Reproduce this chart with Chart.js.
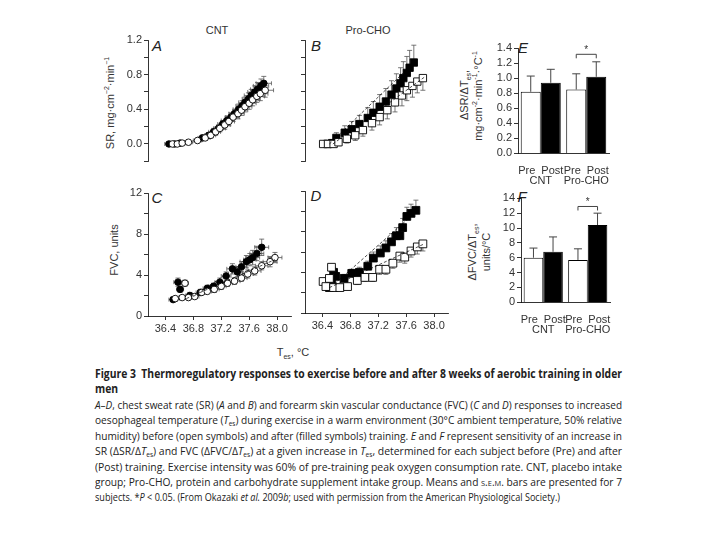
<!DOCTYPE html>
<html>
<head>
<meta charset="utf-8">
<script src="https://cdn.jsdelivr.net/npm/chart.js@4.4.0/dist/chart.umd.min.js"></script>
<style>
    body { margin: 0; width: 720px; height: 540px; background: #fff; position: relative; overflow: hidden;
        font-family: 'Liberation Sans', Arial, sans-serif; color: #333; }
    canvas.layer { position: absolute; left: 0; top: 0; }
    .c { position: absolute; transform: translate(-50%, -50%); white-space: nowrap; font-size: 11px; line-height: 1; }
    .r { transform: translate(-50%, -50%) rotate(-90deg); }
    .let { font-style: italic; font-size: 15px; color: #222; }
    sup, sub { font-size: 7px; line-height: 0; }
    .ln { position: absolute; left: 95px; white-space: nowrap; line-height: 14px; color: #222;
        font-family: 'Liberation Sans Narrow', 'Open Sans', sans-serif; font-size: 11px; }
    .ln span { display: inline-block; transform-origin: left center; }
    .ln.t { font-weight: bold; font-size: 11.5px; }
    .ln sub { font-size: 7px; vertical-align: -2px; }
</style>
</head>
<body>
<div class="c" style="left:217px;top:30px">CNT</div>
<div class="c" style="left:368px;top:30px">Pro-CHO</div>
<div class="c let" style="left:157px;top:45px">A</div>
<div class="c let" style="left:316px;top:45px">B</div>
<div class="c let" style="left:157px;top:197px">C</div>
<div class="c let" style="left:316px;top:195px">D</div>
<div class="c let" style="left:523px;top:47px">E</div>
<div class="c let" style="left:522px;top:196px">F</div>
<div class="c r" style="left:110px;top:103px">SR, mg·cm<sup>−2</sup>·min<sup>−1</sup></div>
<div class="c r" style="left:114px;top:250px">FVC, units</div>
<div class="c r" style="left:464px;top:95px">ΔSR/ΔT<sub>es</sub>,</div>
<div class="c r" style="left:478px;top:96px">mg·cm<sup>-2</sup>·min<sup>-1</sup>·°C<sup>-1</sup></div>
<div class="c r" style="left:472px;top:252px">ΔFVC/ΔT<sub>es</sub>,</div>
<div class="c r" style="left:486px;top:252px">units/°C</div>
<div class="c" style="left:293px;top:352px">T<sub>es</sub>, °C</div>

<div class="ln t" data-w="527" style="top:367px"><span>Figure 3&nbsp; Thermoregulatory responses to exercise before and after 8 weeks of aerobic training in older</span></div>
<div class="ln t" style="top:382px"><span>men</span></div>
<div class="ln" data-w="527" style="top:398px"><span><i>A</i>–<i>D</i>, chest sweat rate (SR) (<i>A</i> and <i>B</i>) and forearm skin vascular conductance (FVC) (<i>C</i> and <i>D</i>) responses to increased</span></div>
<div class="ln" data-w="527" style="top:413px"><span>oesophageal temperature (<i>T</i><sub>es</sub>) during exercise in a warm environment (30°C ambient temperature, 50% relative</span></div>
<div class="ln" data-w="527" style="top:429px"><span>humidity) before (open symbols) and after (filled symbols) training. <i>E</i> and <i>F</i> represent sensitivity of an increase in</span></div>
<div class="ln" data-w="527" style="top:444px"><span>SR (ΔSR/Δ<i>T</i><sub>es</sub>) and FVC (ΔFVC/Δ<i>T</i><sub>es</sub>) at a given increase in <i>T</i><sub>es</sub>, determined for each subject before (Pre) and after</span></div>
<div class="ln" data-w="527" style="top:460px"><span>(Post) training. Exercise intensity was 60% of pre-training peak oxygen consumption rate. CNT, placebo intake</span></div>
<div class="ln" data-w="527" style="top:475px"><span>group; Pro-CHO, protein and carbohydrate supplement intake group. Means and <span style="font-variant:small-caps">s.e.m.</span> bars are presented for 7</span></div>
<div class="ln" data-w="465" data-fit="scale" style="top:490px"><span>subjects. *<i>P</i> &lt; 0.05. (From Okazaki <i>et al.</i> 2009<i>b</i>; used with permission from the American Physiological Society.)</span></div>

<script>
// ---- data ----
// x axis (oesophageal temperature)
const tesTicks = [36.4, 36.8, 37.2, 37.6, 38.0];
const tesMin = 36.15, tesMax = 38.2;

// SR axis
const srTicks = [-0.2, 0.0, 0.2, 0.4, 0.6, 0.8, 1.0, 1.2];
const srLabels = [0.0, 0.4, 0.8, 1.2];
// FVC axis
const fvcTicks = [0, 2, 4, 6, 8, 10, 12];
const fvcLabels = [0, 4, 8, 12];

// Panel A - CNT, sweat rate (open = Pre, filled = Post)
const aPreT = [36.50, 36.57, 36.64, 36.73, 36.86, 36.97, 37.05, 37.12, 37.18, 37.25, 37.31, 37.37, 37.44, 37.49, 37.54, 37.60, 37.65, 37.71, 37.76, 37.83];
const aPreSR = [0.00, 0.00, 0.01, 0.02, 0.04, 0.07, 0.10, 0.14, 0.18, 0.22, 0.26, 0.31, 0.35, 0.39, 0.43, 0.47, 0.51, 0.55, 0.58, 0.62];
const aPreSRErr = [0.01, 0.01, 0.01, 0.02, 0.02, 0.03, 0.03, 0.04, 0.04, 0.05, 0.05, 0.05, 0.06, 0.06, 0.06, 0.07, 0.07, 0.07, 0.08, 0.08];
const aPreTErr = [0.06, 0.05, 0.05, 0.06, 0.06, 0.07, 0.07, 0.07, 0.08, 0.08, 0.08, 0.09, 0.09, 0.09, 0.10, 0.10, 0.10, 0.11, 0.11, 0.12];
const aPostT = [36.45, 36.53, 36.61, 36.93, 37.02, 37.09, 37.16, 37.22, 37.28, 37.34, 37.39, 37.45, 37.50, 37.54, 37.59, 37.63, 37.68, 37.72, 37.77, 37.81];
const aPostSR = [0.00, 0.00, 0.01, 0.07, 0.10, 0.14, 0.18, 0.23, 0.27, 0.31, 0.35, 0.40, 0.44, 0.48, 0.52, 0.56, 0.60, 0.63, 0.67, 0.70];
const aPostSRErr = [0.01, 0.01, 0.01, 0.03, 0.03, 0.04, 0.04, 0.04, 0.05, 0.05, 0.05, 0.06, 0.06, 0.06, 0.07, 0.07, 0.07, 0.08, 0.08, 0.08];
const aPostTErr = [0.06, 0.06, 0.05, 0.06, 0.06, 0.07, 0.07, 0.07, 0.08, 0.08, 0.08, 0.08, 0.09, 0.09, 0.09, 0.10, 0.10, 0.10, 0.11, 0.11];

// Panel B - Pro-CHO, sweat rate
const bPreT = [36.41, 36.48, 36.56, 36.63, 36.75, 36.87, 36.98, 37.11, 37.22, 37.33, 37.44, 37.54, 37.61, 37.69, 37.76, 37.84];
const bPreSR = [0.00, 0.00, 0.00, 0.02, 0.06, 0.10, 0.16, 0.24, 0.31, 0.39, 0.48, 0.56, 0.62, 0.67, 0.72, 0.76];
const bPreErr = [0.02, 0.02, 0.03, 0.04, 0.05, 0.06, 0.07, 0.08, 0.09, 0.10, 0.11, 0.12, 0.12, 0.13, 0.13, 0.14];
const bPostT = [36.47, 36.54, 36.60, 36.72, 36.82, 36.93, 37.05, 37.13, 37.22, 37.31, 37.39, 37.46, 37.52, 37.56, 37.61, 37.65, 37.71];
const bPostSR = [0.00, 0.01, 0.07, 0.13, 0.17, 0.23, 0.30, 0.36, 0.43, 0.49, 0.57, 0.64, 0.70, 0.76, 0.82, 0.88, 0.94];
const bPostErr = [0.03, 0.04, 0.06, 0.08, 0.09, 0.10, 0.12, 0.13, 0.14, 0.15, 0.16, 0.17, 0.18, 0.19, 0.19, 0.20, 0.20];
const bPreFitT = [36.55, 37.86], bPreFitSR = [0.00, 0.77];
const bPostFitT = [36.50, 37.74], bPostFitSR = [0.00, 0.96];

// Panel C - CNT, forearm vascular conductance
const cPreT = [36.54, 36.64, 36.68, 36.73, 36.82, 36.92, 37.00, 37.10, 37.20, 37.29, 37.39, 37.49, 37.58, 37.68, 37.78, 37.90, 37.97];
const cPreF = [1.7, 1.8, 3.2, 1.8, 1.9, 2.3, 2.4, 2.6, 2.9, 3.2, 3.4, 3.7, 4.1, 4.4, 4.9, 5.3, 5.7];
const cPreFErr = [0.2, 0.2, 0.3, 0.2, 0.2, 0.2, 0.2, 0.3, 0.3, 0.3, 0.3, 0.3, 0.4, 0.4, 0.4, 0.5, 0.5];
const cPreTErr = [0.06, 0.05, 0.05, 0.05, 0.06, 0.06, 0.06, 0.07, 0.07, 0.07, 0.08, 0.08, 0.08, 0.09, 0.09, 0.10, 0.10];
const cPostT = [36.51, 36.58, 36.61, 36.75, 36.90, 37.00, 37.09, 37.18, 37.27, 37.36, 37.43, 37.49, 37.56, 37.61, 37.65, 37.71, 37.78];
const cPostF = [1.6, 3.3, 2.6, 2.0, 2.3, 2.7, 2.9, 3.3, 3.9, 4.6, 4.3, 4.8, 5.3, 5.5, 5.7, 6.1, 6.7];
const cPostFErr = [0.2, 0.4, 0.3, 0.3, 0.3, 0.3, 0.3, 0.4, 0.4, 0.5, 0.5, 0.5, 0.6, 0.6, 0.7, 0.7, 0.8];
const cPostTErr = [0.06, 0.06, 0.05, 0.06, 0.06, 0.06, 0.07, 0.07, 0.07, 0.08, 0.08, 0.08, 0.09, 0.09, 0.10, 0.10, 0.10];
const cPreFitT = [36.70, 37.97], cPreFitF = [1.7, 5.5];
const cPostFitT = [36.80, 37.80], cPostFitF = [1.9, 6.5];

// Panel D - Pro-CHO, forearm vascular conductance
const dPreT = [36.41, 36.45, 36.50, 36.53, 36.56, 36.65, 36.76, 36.90, 37.01, 37.12, 37.22, 37.31, 37.41, 37.51, 37.58, 37.67, 37.76, 37.84];
const dPreF = [3.1, 2.6, 3.4, 4.5, 2.5, 2.5, 2.6, 3.2, 3.5, 3.5, 4.3, 4.3, 4.9, 5.6, 5.5, 6.1, 6.5, 6.8];
const dPreErr = [0.3, 0.3, 0.3, 0.4, 0.3, 0.3, 0.3, 0.4, 0.4, 0.4, 0.5, 0.5, 0.5, 0.6, 0.6, 0.6, 0.7, 0.7];
const dPostT = [36.50, 36.53, 36.56, 36.59, 36.71, 36.82, 36.93, 37.05, 37.13, 37.23, 37.31, 37.39, 37.46, 37.51, 37.55, 37.61, 37.67, 37.74];
const dPostF = [2.5, 2.9, 4.0, 3.6, 3.4, 3.9, 4.0, 4.6, 5.4, 5.9, 6.4, 7.0, 7.6, 7.6, 8.4, 9.5, 9.8, 10.1];
const dPostErr = [0.3, 0.4, 0.5, 0.4, 0.4, 0.4, 0.5, 0.5, 0.6, 0.7, 0.7, 0.8, 0.8, 0.8, 0.9, 0.9, 0.9, 1.0];
const dPreFitT = [36.50, 37.86], dPreFitF = [2.5, 6.8];
const dPostFitT = [36.58, 37.75], dPostFitF = [2.9, 10.0];

// Panels E and F - bars
const groups = ['CNT', 'Pro-CHO'];
const phases = ['Pre', 'Post'];
const eTicks = [0.0, 0.2, 0.4, 0.6, 0.8, 1.0, 1.2, 1.4];
const ePre = [0.82, 0.85], ePreErr = [0.21, 0.21];
const ePost = [0.94, 1.02], ePostErr = [0.18, 0.20];
const eSig = 1.32;
const fTicks = [0, 2, 4, 6, 8, 10, 12, 14];
const fPre = [6.0, 5.7], fPreErr = [1.3, 1.5];
const fPost = [6.8, 10.4], fPostErr = [2.0, 1.6];
const fSig = 12.9;

// ---- drawing ----
const FONT = "'Liberation Sans', Arial, sans-serif";
const TICK = '#333';
const YW = 40, XH = 22;

function layer() {
    var c = document.createElement('canvas');
    c.width = 720;
    c.height = 540;
    c.className = 'layer';
    document.body.appendChild(c);
    return c;
}

// chart area [left, top, right, bottom] in page pixels -> layout padding
function pad(area, yw, xh) {
    return { left: area[0] - yw, top: area[1], right: 720 - area[2], bottom: 540 - area[3] - xh };
}

function pts(xs, ys) {
    return xs.map((x, i) => ({ x: x, y: ys[i] }));
}

var errorBars = {
    id: 'errorBars',
    beforeDatasetsDraw(chart) {
        var ctx = chart.ctx, xs = chart.scales.x, ys = chart.scales.y;
        chart.data.datasets.forEach(function (ds, i) {
            if (!ds.errY) return;
            var meta = chart.getDatasetMeta(i);
            ctx.save();
            ctx.strokeStyle = '#555';
            ctx.lineWidth = 0.8;
            meta.data.forEach(function (pt, j) {
                var v = ds.data[j];
                ctx.beginPath();
                if (ds.errDir !== 'down') {
                    var yu = ys.getPixelForValue(v.y + ds.errY[j]);
                    ctx.moveTo(pt.x, pt.y); ctx.lineTo(pt.x, yu);
                    ctx.moveTo(pt.x - 2.5, yu); ctx.lineTo(pt.x + 2.5, yu);
                }
                if (ds.errDir !== 'up') {
                    var yd = ys.getPixelForValue(v.y - ds.errY[j]);
                    ctx.moveTo(pt.x, pt.y); ctx.lineTo(pt.x, yd);
                    ctx.moveTo(pt.x - 2.5, yd); ctx.lineTo(pt.x + 2.5, yd);
                }
                if (ds.errX) {
                    var xl = xs.getPixelForValue(v.x - ds.errX[j]);
                    var xr = xs.getPixelForValue(v.x + ds.errX[j]);
                    ctx.moveTo(xl, pt.y); ctx.lineTo(xr, pt.y);
                    ctx.moveTo(xl, pt.y - 2); ctx.lineTo(xl, pt.y + 2);
                    ctx.moveTo(xr, pt.y - 2); ctx.lineTo(xr, pt.y + 2);
                }
                ctx.stroke();
            });
            ctx.restore();
        });
    }
};

var barExtras = {
    id: 'barExtras',
    afterDatasetsDraw(chart, args, opts) {
        var ctx = chart.ctx, ys = chart.scales.y;
        ctx.save();
        ctx.strokeStyle = '#444';
        ctx.lineWidth = 1;
        chart.data.datasets.forEach(function (ds, i) {
            chart.getDatasetMeta(i).data.forEach(function (bar, j) {
                var top = ys.getPixelForValue(ds.data[j] + ds.err[j]);
                ctx.beginPath();
                ctx.moveTo(bar.x, bar.y); ctx.lineTo(bar.x, top);
                ctx.moveTo(bar.x - 4, top); ctx.lineTo(bar.x + 4, top);
                ctx.stroke();
            });
        });
        var a = chart.getDatasetMeta(0).data[1], b = chart.getDatasetMeta(1).data[1];
        var yb = ys.getPixelForValue(opts.bracket);
        ctx.beginPath();
        ctx.moveTo(a.x, yb + 4); ctx.lineTo(a.x, yb); ctx.lineTo(b.x, yb); ctx.lineTo(b.x, yb + 4);
        ctx.stroke();
        ctx.fillStyle = '#333';
        ctx.font = '10px ' + FONT;
        ctx.textAlign = 'center';
        ctx.fillText('*', (a.x + b.x) / 2, yb - 1);
        ctx.restore();
    }
};

var axisLine = { display: true, color: '#000', width: 0.8 };
var tickGrid = { drawOnChartArea: false, drawTicks: true, tickLength: 4, color: '#000', lineWidth: 0.8 };

function xAxis(show) {
    return {
        type: 'linear', min: tesMin, max: tesMax, display: show,
        afterBuildTicks: s => { s.ticks = tesTicks.map(v => ({ value: v })); },
        afterFit: s => { s.height = show ? XH : 0; },
        ticks: { autoSkip: false, maxRotation: 0, padding: 2, color: TICK, font: { family: FONT, size: 11 },
            callback: v => v.toFixed(1) },
        grid: tickGrid, border: axisLine
    };
}

function yAxis(min, max, ticks, labels, dec) {
    return {
        min: min, max: max,
        afterBuildTicks: s => { s.ticks = ticks.map(v => ({ value: v })); },
        afterFit: s => { s.width = labels ? YW : 0; },
        ticks: { display: !!labels, autoSkip: false, padding: 2, color: TICK, font: { family: FONT, size: 11 },
            callback: v => (labels && labels.some(l => Math.abs(l - v) < 1e-6)) ? v.toFixed(dec) : '' },
        grid: tickGrid, border: axisLine
    };
}

function series(x, y, ey, ex, dir, shape, r, filled) {
    return {
        type: 'scatter', data: pts(x, y), pointStyle: shape, pointRadius: r,
        backgroundColor: filled ? '#000' : '#fff', borderColor: '#000', borderWidth: 0.9,
        errY: ey, errX: ex, errDir: dir, order: 1
    };
}

function fit(x, y) {
    return {
        type: 'line', data: pts(x, y), showLine: true, borderColor: '#000', borderWidth: 0.7,
        borderDash: [3, 2], pointRadius: 0, fill: false, order: 0
    };
}

function scatterPanel(area, showX, yScale, yLabelled, datasets) {
    new Chart(layer(), {
        type: 'scatter',
        data: { datasets: datasets },
        options: {
            responsive: false, animation: false, events: [],
            layout: { padding: pad(area, yLabelled ? YW : 0, showX ? XH : 0) },
            plugins: { legend: { display: false }, tooltip: { enabled: false } },
            scales: { x: xAxis(showX), y: yScale }
        },
        plugins: [errorBars]
    });
}

// A
scatterPanel([148, 40, 291, 161.3], false, yAxis(-0.2, 1.2, srTicks, srLabels, 1), true, [
    series(aPreT, aPreSR, aPreSRErr, aPreTErr, 'both', 'circle', 3.3, false),
    series(aPostT, aPostSR, aPostSRErr, aPostTErr, 'both', 'circle', 3.3, true)
]);
// B
scatterPanel([305, 40, 448, 161.3], false, yAxis(-0.2, 1.2, srTicks, null, 1), false, [
    fit(bPreFitT, bPreFitSR), fit(bPostFitT, bPostFitSR),
    series(bPreT, bPreSR, bPreErr, null, 'down', 'rect', 5.2, false),
    series(bPostT, bPostSR, bPostErr, null, 'up', 'rect', 5.2, true)
]);
// C
scatterPanel([148, 193, 291, 316], true, yAxis(0, 12, fvcTicks, fvcLabels, 0), true, [
    fit(cPreFitT, cPreFitF), fit(cPostFitT, cPostFitF),
    series(cPreT, cPreF, cPreFErr, cPreTErr, 'both', 'circle', 3.3, false),
    series(cPostT, cPostF, cPostFErr, cPostTErr, 'both', 'circle', 3.3, true)
]);
// D
scatterPanel([305, 191, 448, 313], true, yAxis(0, 12, fvcTicks, null, 0), false, [
    fit(dPreFitT, dPreFitF), fit(dPostFitT, dPostFitF),
    series(dPreT, dPreF, dPreErr, null, 'down', 'rect', 5.5, false),
    series(dPostT, dPostF, dPostErr, null, 'up', 'rect', 5.5, true)
]);

function barPanel(area, ticks, dec, pre, preErr, post, postErr, sig) {
    var xh = 36;
    new Chart(layer(), {
        type: 'bar',
        data: {
            labels: groups.map(g => [phases.join('  '), g]),
            datasets: [
                { label: phases[0], data: pre, err: preErr, backgroundColor: '#fff', borderColor: '#000', borderWidth: 1 },
                { label: phases[1], data: post, err: postErr, backgroundColor: '#000', borderColor: '#000', borderWidth: 1 }
            ]
        },
        options: {
            responsive: false, animation: false, events: [],
            layout: { padding: pad(area, YW, xh) },
            categoryPercentage: 0.88, barPercentage: 1.0,
            plugins: { legend: { display: false }, tooltip: { enabled: false }, barExtras: { bracket: sig } },
            scales: {
                x: {
                    afterFit: s => { s.height = xh; },
                    ticks: { autoSkip: false, maxRotation: 0, padding: 4, color: TICK,
                        font: { family: FONT, size: 11, lineHeight: 0.95 } },
                    grid: { display: false }, border: axisLine
                },
                y: yAxis(ticks[0], ticks[ticks.length - 1], ticks, ticks, dec)
            }
        },
        plugins: [barExtras]
    });
}

barPanel([518, 48.3, 609, 153.3], eTicks, 1, ePre, ePreErr, ePost, ePostErr, eSig);
barPanel([521, 198.3, 610, 302.3], fTicks, 0, fPre, fPreErr, fPost, fPostErr, fSig);

// ---- caption: justify each line to the column width ----
var lastScale = 1;
document.querySelectorAll('.ln').forEach(function (el) {
    var sp = el.firstElementChild;
    var w = sp.getBoundingClientRect().width;
    var W = +el.dataset.w;
    if (!W) {
        if (lastScale < 1) sp.style.transform = 'scaleX(' + lastScale + ')';
        return;
    }
    if (w > W || el.dataset.fit === 'scale') {
        lastScale = W / w;
        sp.style.transform = 'scaleX(' + lastScale + ')';
    } else {
        var n = (sp.textContent.match(/[ \u00a0]/g) || []).length;
        sp.style.wordSpacing = ((W - w) / n) + 'px';
        lastScale = 1;
    }
});
</script>
</body>
</html>
